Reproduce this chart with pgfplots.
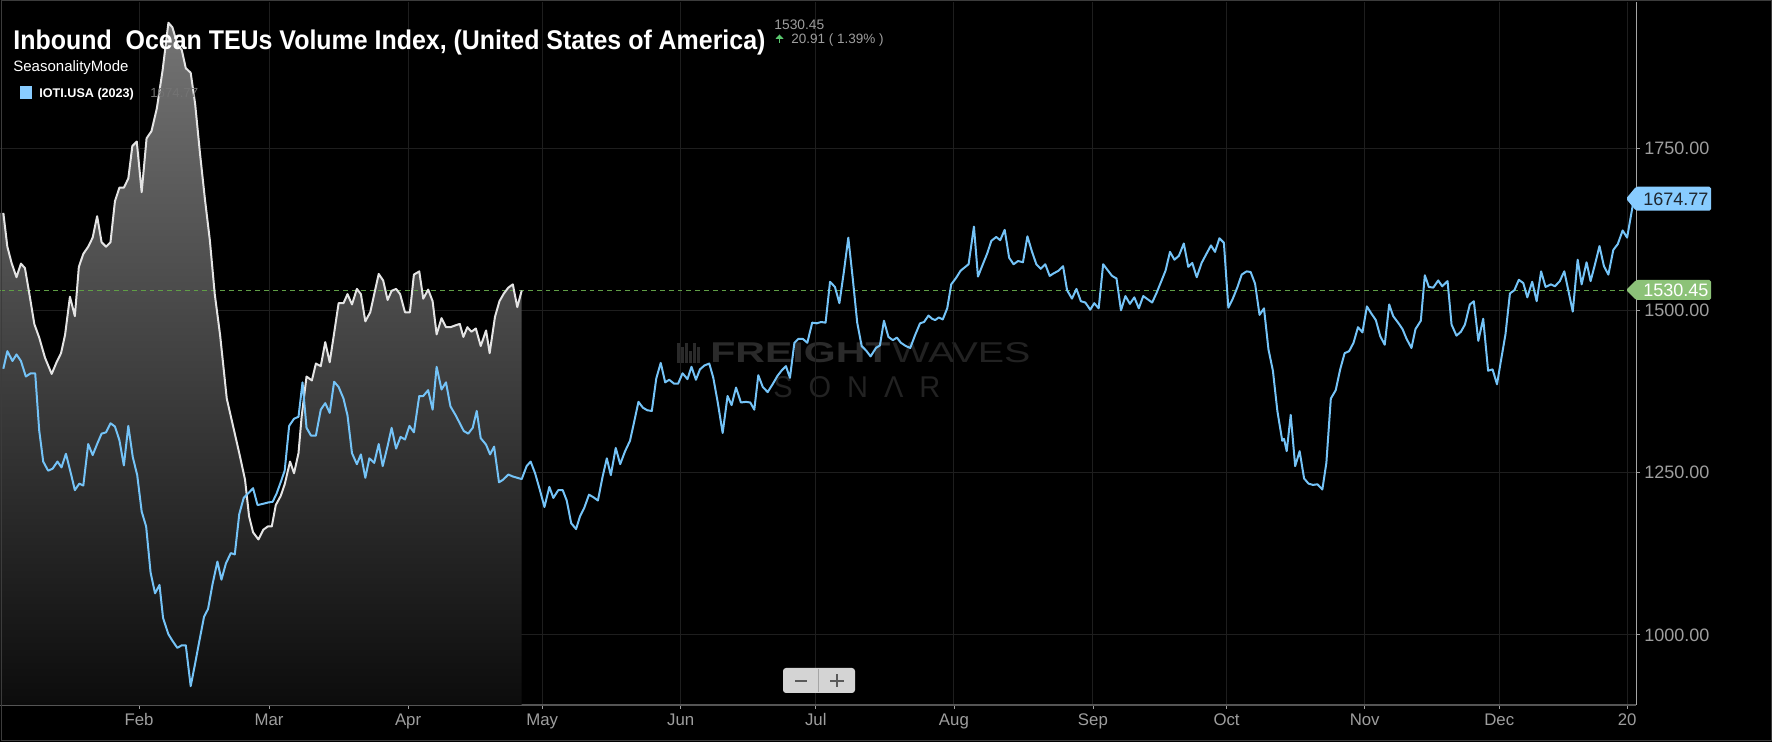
\documentclass[border=0pt]{standalone}
\usepackage{fontspec}
\setmainfont{Liberation Sans}
\usepackage{pgfplots}
\pgfplotsset{compat=1.18}
\usepackage{pgfplotstable}
\usepackage{graphicx}

\definecolor{bluel}{RGB}{116,195,247}
\definecolor{whl}{RGB}{228,228,228}
\definecolor{gridc}{RGB}{30,30,30}
\definecolor{tickc}{RGB}{158,158,158}
\definecolor{lblblue}{RGB}{136,204,255}
\definecolor{lblgreen}{RGB}{140,194,120}
\definecolor{dashg}{RGB}{96,158,70}
\definecolor{fillTop}{RGB}{116,116,116}
\definecolor{fillBot}{RGB}{12,12,12}
\definecolor{wm}{RGB}{42,42,42}
\definecolor{wmthin}{RGB}{34,34,34}
\definecolor{axbot}{RGB}{85,85,85}
\definecolor{axright}{RGB}{165,165,165}
\definecolor{btn}{RGB}{212,212,212}
\definecolor{btnsym}{RGB}{90,90,90}
\definecolor{btndiv}{RGB}{165,165,165}
\definecolor{arrowg}{RGB}{90,200,110}
\definecolor{framec}{RGB}{60,60,60}
\definecolor{legval}{RGB}{115,115,115}
\definecolor{lbltext}{RGB}{30,38,46}

\pgfplotstableread{
x y
0.75 1650
1.65 1598
2.6 1573
3.7 1551
4.7 1572
5.6 1565
6.6 1525
7.7 1479
8.8 1458
10.1 1427
11.6 1402
12.7 1420
13.7 1434
14.6 1462
15.7 1521
16.8 1491
17.7 1567
18.7 1587
19.8 1598
20.8 1612
21.8 1645
22.8 1605
23.8 1598
24.8 1605
25.8 1668
26.8 1689
27.8 1689
28.8 1703
29.7 1753
30.7 1760
31.8 1682
32.9 1765
34.0 1776
35.2 1811
36.5 1870
37.8 1943
38.7 1936
39.8 1910
40.8 1901
41.7 1873
42.8 1866
43.8 1818
44.9 1741
46.0 1671
47.1 1608
48.2 1525
49.4 1462
50.9 1364
52.4 1319
53.7 1280
55.0 1239
55.9 1183
56.8 1158
58.0 1147
59.1 1162
60.1 1167
61.0 1167
61.9 1200
63.0 1214
63.9 1232
65.1 1267
66.0 1249
67.0 1280
67.7 1336
68.8 1398
70.0 1392
70.9 1418
72.0 1414
73.0 1451
74.0 1420
75.0 1465
76.0 1511
77.1 1511
78.0 1525
79.0 1509
80.1 1533
81.0 1525
82.0 1483
83.1 1497
84.0 1525
85.0 1556
86.0 1546
87.0 1516
87.9 1530
88.9 1533
89.8 1525
90.9 1497
92.0 1497
92.9 1555
94.1 1560
95.0 1518
96.1 1532
97.1 1514
98.0 1463
99.1 1488
100.1 1474
101.1 1474
102.3 1477
103.2 1479
104.0 1459
104.9 1474
105.8 1467
106.8 1472
107.9 1445
109.1 1469
109.9 1434
111.1 1490
112.1 1514
113.1 1526
114.1 1535
115.1 1540
116.1 1505
117.1 1530.45
}\whiteData

\pgfplotstableread{
x y
0.0 1650
0.75 1650
1.65 1598
2.6 1573
3.7 1551
4.7 1572
5.6 1565
6.6 1525
7.7 1479
8.8 1458
10.1 1427
11.6 1402
12.7 1420
13.7 1434
14.6 1462
15.7 1521
16.8 1491
17.7 1567
18.7 1587
19.8 1598
20.8 1612
21.8 1645
22.8 1605
23.8 1598
24.8 1605
25.8 1668
26.8 1689
27.8 1689
28.8 1703
29.7 1753
30.7 1760
31.8 1682
32.9 1765
34.0 1776
35.2 1811
36.5 1870
37.8 1943
38.7 1936
39.8 1910
40.8 1901
41.7 1873
42.8 1866
43.8 1818
44.9 1741
46.0 1671
47.1 1608
48.2 1525
49.4 1462
50.9 1364
52.4 1319
53.7 1280
55.0 1239
55.9 1183
56.8 1158
58.0 1147
59.1 1162
60.1 1167
61.0 1167
61.9 1200
63.0 1214
63.9 1232
65.1 1267
66.0 1249
67.0 1280
67.7 1336
68.8 1398
70.0 1392
70.9 1418
72.0 1414
73.0 1451
74.0 1420
75.0 1465
76.0 1511
77.1 1511
78.0 1525
79.0 1509
80.1 1533
81.0 1525
82.0 1483
83.1 1497
84.0 1525
85.0 1556
86.0 1546
87.0 1516
87.9 1530
88.9 1533
89.8 1525
90.9 1497
92.0 1497
92.9 1555
94.1 1560
95.0 1518
96.1 1532
97.1 1514
98.0 1463
99.1 1488
100.1 1474
101.1 1474
102.3 1477
103.2 1479
104.0 1459
104.9 1474
105.8 1467
106.8 1472
107.9 1445
109.1 1469
109.9 1434
111.1 1490
112.1 1514
113.1 1526
114.1 1535
115.1 1540
116.1 1505
117.1 1530.45
117.1 892
0.0 892
}\whiteFill

\pgfplotstableread{
x y
0.75 1410
1.65 1437
2.8 1422
3.7 1432
4.7 1422
5.8 1398
6.9 1403
7.9 1403
8.8 1315
9.7 1267
10.8 1253
11.8 1256
12.9 1267
13.8 1258
14.8 1279
15.9 1249
16.8 1223
17.8 1233
18.7 1230
19.8 1294
20.8 1277
21.8 1294
22.8 1310
23.8 1312
24.8 1326
25.8 1321
26.8 1300
27.8 1261
28.8 1322
29.8 1274
30.8 1246
31.8 1190
32.8 1167
33.8 1096
34.8 1064
35.8 1077
36.6 1026
37.8 1001
38.7 991
39.8 980
40.8 984
41.7 984
42.8 921
43.8 956
44.7 989
45.8 1028
46.7 1040
47.7 1078
48.8 1113
49.7 1085
50.7 1110
51.8 1126
52.7 1124
53.7 1186
54.7 1211
55.7 1218
56.8 1226
57.8 1200
59.1 1202
60.2 1204
61.2 1205
62.1 1218
63.1 1237
63.9 1253
64.9 1322
66.0 1333
67.0 1336
67.9 1389
68.8 1319
69.8 1307
70.9 1307
72.0 1347
73.0 1357
74.0 1342
75.0 1390
76.0 1382
77.1 1364
78.0 1338
79.0 1280
80.1 1263
81.0 1278
82.0 1242
82.9 1272
84.0 1265
85.0 1294
85.9 1260
87.0 1291
87.9 1319
88.9 1287
89.9 1305
90.9 1301
91.9 1322
92.9 1312
94.1 1368
95.0 1368
96.1 1377
97.1 1347
98.0 1413
99.1 1378
100.1 1389
101.1 1352
102.3 1338
103.2 1326
104.1 1314
105.1 1310
106.1 1319
107.0 1345
107.9 1303
109.1 1293
110.0 1278
110.9 1290
112.0 1235
112.9 1239
114.1 1247
115.1 1244
116.1 1242
117.1 1240
118.2 1260
119.1 1267
120.1 1249
121.1 1225
122.2 1197
123.3 1228
124.2 1211
125.3 1223
126.3 1223
127.2 1207
128.2 1172
129.3 1163
130.2 1183
131.1 1195
132.2 1216
133.2 1212
134.2 1207
135.2 1242
136.2 1272
137.1 1246
138.2 1288
139.2 1263
140.3 1283
141.4 1299
142.3 1327
143.3 1359
144.3 1350
145.3 1346
146.3 1345
147.3 1395
148.3 1419
149.3 1389
150.2 1393
151.3 1387
152.2 1387
153.2 1403
154.3 1394
155.2 1413
156.2 1393
157.1 1409
158.1 1415
159.2 1418
160.1 1396
161.1 1358
162.2 1311
163.3 1368
164.2 1354
165.2 1381
166.3 1358
167.4 1359
168.4 1358
169.3 1347
170.2 1400
171.2 1382
172.3 1374
173.4 1386
174.5 1399
175.4 1407
176.4 1414
177.3 1396
178.3 1450
179.2 1456
180.2 1456
181.2 1450
182.3 1481
183.3 1480
184.3 1482
185.3 1481
186.3 1544
187.4 1536
188.4 1511
189.4 1559
190.4 1612
191.4 1549
192.4 1481
193.4 1445
194.4 1438
195.4 1429
196.6 1442
197.5 1446
198.4 1484
199.4 1459
200.4 1454
201.3 1458
202.2 1450
203.3 1445
204.3 1442
205.4 1462
206.5 1480
207.4 1482
208.4 1492
209.2 1487
209.9 1485
210.7 1489
211.6 1486
212.6 1503
213.5 1540
214.6 1550
215.6 1561
216.5 1566
217.4 1571
218.6 1629
219.5 1552
220.6 1571
221.6 1588
222.5 1607
223.6 1613
224.5 1608
225.5 1624
226.5 1581
227.5 1571
228.5 1576
229.6 1574
230.6 1614
231.6 1591
232.6 1571
233.6 1564
234.6 1571
235.6 1553
236.5 1557
237.6 1561
238.6 1568
239.5 1531
240.6 1518
241.6 1533
242.6 1514
243.6 1512
244.7 1501
245.6 1511
246.6 1503
247.6 1571
248.6 1562
249.6 1553
250.6 1549
251.6 1500
252.6 1522
253.6 1510
254.6 1520
255.6 1503
256.6 1522
257.6 1517
258.6 1512
259.6 1527
260.6 1544
261.6 1561
262.6 1590
263.6 1578
264.6 1584
265.7 1603
266.7 1567
267.6 1573
268.6 1551
269.7 1573
270.7 1586
271.8 1600
272.7 1590
273.7 1611
274.7 1604
275.7 1504
276.7 1518
277.7 1535
278.7 1555
279.8 1560
280.7 1559
281.7 1541
282.7 1493
283.7 1503
284.7 1440
285.7 1407
286.7 1345
287.8 1299
288.2 1302
288.8 1283
289.7 1339
290.7 1260
291.7 1283
292.7 1241
293.7 1233
294.7 1231
295.7 1232
296.8 1224
297.7 1265
298.7 1364
299.8 1377
300.8 1409
301.8 1434
302.8 1437
303.8 1450
304.8 1474
305.8 1466
306.8 1506
307.8 1495
308.8 1485
309.8 1460
310.8 1447
311.8 1509
312.7 1491
313.8 1481
314.8 1471
315.7 1456
316.8 1442
317.7 1471
318.9 1484
319.8 1554
320.7 1536
321.7 1535
322.8 1546
323.7 1537
324.9 1545
325.8 1478
326.9 1461
327.9 1467
328.8 1478
329.9 1509
330.8 1514
331.8 1453
332.9 1487
334.0 1407
335.0 1409
336.0 1386
336.8 1419
337.9 1463
338.9 1526
339.9 1531
340.9 1547
341.9 1542
342.8 1520
343.9 1544
344.9 1514
345.9 1560
346.9 1536
348.1 1540
349.0 1537
350.1 1545
351.1 1560
352.0 1531
353.0 1498
354.1 1578
355.0 1540
356.1 1574
357.0 1545
358.0 1571
359.0 1599
360.0 1568
361.0 1555
362.1 1593
363.1 1602
364.2 1623
365.2 1612
366.8 1674.77
}\blueData

\pgfplotstableread{
x y
0 1530.45
365.0 1530.45
}\dashData

\begin{document}
\begin{tikzpicture}
\fill[black] (0,0) rectangle (886pt,371pt);
\useasboundingbox (0,0) rectangle (886pt,371pt);

% watermark (pixel coordinates, y downward)
\begin{scope}[x=0.5pt,y=-0.5pt,shift={(0pt,371pt)}]
  \foreach \i/\h in {0/20,4/16,8/20,12/12,16/20,20/16}{
    \fill[wm] (677+\i,363) rectangle (679.5+\i,363-\h);
  }
  \node[anchor=south west, inner sep=0, text=wm] at (710,363) {\resizebox{90pt}{10pt}{\bfseries FREIGHT}};
  \node[anchor=south west, inner sep=0, text=wmthin] at (892,363) {\resizebox{69pt}{10pt}{WAVES}};
  \node[anchor=south west, inner sep=0, text=wmthin] at (773,398) {\resizebox{83.5pt}{10.5pt}{S\hspace{0.55em}O\hspace{0.55em}N\hspace{0.55em}Λ\hspace{0.55em}R}};
\end{scope}

\begin{axis}[
  at={(0pt,18.5pt)}, anchor=south west,
  scale only axis, width=818pt, height=351.5pt,
  xmin=0, xmax=367.2, ymin=892, ymax=1975,
  axis x line*=bottom, axis y line*=right,
  x axis line style={draw=axbot, line width=0.8pt},
  y axis line style={draw=axright, line width=0.5pt},
  xtick={31.2,60.4,91.6,121.7,152.8,183.1,214.1,245.3,275.3,306.3,336.5,365.2},
  xticklabels={Feb,Mar,Apr,May,Jun,Jul,Aug,Sep,Oct,Nov,Dec,20},
  ytick={1000,1250,1500,1750},
  grid=major, grid style={draw=gridc, line width=0.5pt},
  tick align=outside, major tick length=2pt,
  tick style={draw=tickc, line width=0.4pt},
  scaled y ticks=false,
  xticklabel style={font=\fontsize{8.4}{9}\selectfont, text=tickc, anchor=base, yshift=-8.5pt},
  yticklabel style={font=\fontsize{9}{10}\selectfont, text=tickc, anchor=west, inner sep=0pt, xshift=2pt,
    /pgf/number format/.cd, fixed, fixed zerofill, precision=2, 1000 sep={}, assume math mode=true},
]
\addplot[draw=none, top color=fillTop, bottom color=fillBot] table[x=x,y=y]{\whiteFill};
\addplot[dashg, dash pattern=on 2.4pt off 2pt, line width=0.75pt] table[x=x,y=y]{\dashData};
\addplot[whl, line width=1pt, line join=round] table[x=x,y=y]{\whiteData};
\addplot[bluel, line width=1pt, line join=round] table[x=x,y=y]{\blueData};
\end{axis}

\begin{scope}[x=0.5pt,y=-0.5pt,shift={(0pt,371pt)}]
  % frame
  \draw[framec, line width=0.5pt] (1,1) rectangle (1771,741);
  % title
  \node[anchor=base west, inner sep=0, text=white] at (13,50) {\resizebox{376pt}{9.8pt}{\bfseries Inbound\ \ Ocean TEUs Volume Index, (United States of America)}};
  \node[anchor=base west, inner sep=0, text=tickc] at (774,29.5) {\fontsize{6.9}{8}\selectfont 1530.45};
  \fill[arrowg] (779.5,34.5) -- (783.5,38.8) -- (775.5,38.8) -- cycle;
  \draw[arrowg, line width=0.8pt] (779.5,38) -- (779.5,43.5);
  \node[anchor=base west, inner sep=0, text=tickc] at (791,43.5) {\fontsize{6.75}{8}\selectfont 20.91 ( 1.39\% )};
  \node[anchor=base west, inner sep=0, text=white] at (13,72) {\fontsize{7.5}{9}\selectfont SeasonalityMode};
  \fill[lblblue] (20,86) rectangle (32,99);
  \node[anchor=base west, inner sep=0, text=white] at (39,97.5) {\fontsize{6.3}{8}\selectfont\bfseries IOTI.USA (2023)};
  \node[anchor=base west, inner sep=0, text=legval] at (150,97.5) {\fontsize{6.6}{8}\selectfont 1674.77};
  % right value labels
  \fill[lblblue, rounded corners=0.8pt] (1626,198.7) -- (1636,186.7) -- (1711,186.7) -- (1711,210.7) -- (1636,210.7) -- cycle;
  \node[anchor=base west, inner sep=0, text=lbltext] at (1643,205.3) {\fontsize{9}{10}\selectfont 1674.77};
  \fill[lblgreen, rounded corners=0.8pt] (1626,290) -- (1636,280) -- (1711,280) -- (1711,300) -- (1636,300) -- cycle;
  \node[anchor=base west, inner sep=0, text=white] at (1643,297) {\fontsize{9}{10}\selectfont 1530.45};
  % zoom buttons
  \fill[btn, rounded corners=1.5pt] (783,668) rectangle (855,693);
  \draw[btndiv, line width=0.4pt] (818,669) -- (818,692);
  \draw[btnsym, line width=1.3pt] (795,681) -- (807,681);
  \draw[btnsym, line width=1.1pt] (830,681) -- (844,681);
  \draw[btnsym, line width=1.1pt] (837,674.5) -- (837,687.5);
\end{scope}
\end{tikzpicture}
\end{document}
